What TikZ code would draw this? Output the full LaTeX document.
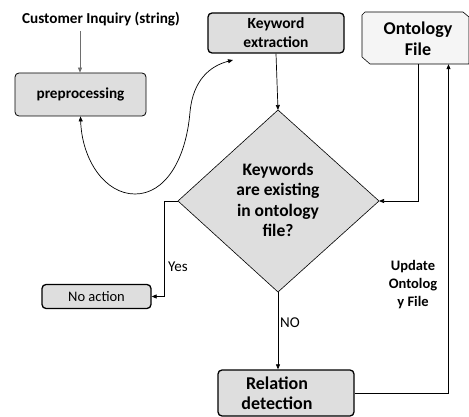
\documentclass[tikz,border=0pt]{standalone}
\usepackage{fontspec}
\setmainfont{Carlito}
\usetikzlibrary{arrows.meta}
\definecolor{boxgray}{RGB}{222,222,222}
\definecolor{ontofill}{RGB}{245,245,245}
\definecolor{arrgray}{RGB}{110,110,110}
\begin{document}
\begin{tikzpicture}[x=1pt,y=-1pt,
  box/.style={draw, rounded corners=4pt, fill=boxgray, line width=0.8pt, align=center, inner sep=0pt},
  thickbox/.style={box, line width=1.3pt},
  txt/.style={align=center, inner sep=0pt, font=\bfseries},
  arr/.style={-{Triangle[length=5pt,width=4pt]}, line width=0.7pt},
  arrb/.style={{Triangle[length=5pt,width=4pt]}-{Triangle[length=5pt,width=4pt]}, line width=0.7pt}]
\useasboundingbox (0,0) rectangle (469,417);

% nodes
\node[txt, font=\bfseries\fontsize{15.2}{17}\selectfont] (cust) at (101,19) {Customer Inquiry (string)};
\node[box, minimum width=131pt, minimum height=43pt, font=\bfseries\fontsize{15.2}{17}\selectfont] (pre) at (80.5,94.5) {preprocessing};
\node[thickbox, minimum width=136pt, minimum height=40pt, font=\bfseries\fontsize{15.5}{19}\selectfont] (kw) at (276,33) {Keyword\\extraction};

% ontology file
\draw[fill=ontofill, line width=0.6pt] (362,15) -- (365,12) -- (463,12) -- (469,17) -- (469,64) -- (370,64) -- (362,57) -- cycle;
\node[minimum width=107pt, minimum height=52pt, inner sep=0pt] (onto) at (415.5,38) {};
\node[txt, font=\bfseries\fontsize{18}{21}\selectfont] (ontotext) at (418,39) {Ontology\\File};

% diamond
\coordinate (dtop) at (278,110);
\coordinate (dright) at (379,201);
\coordinate (dbot) at (278,292);
\coordinate (dleft) at (178,201);
\draw[fill=boxgray, line width=0.6pt] (dtop) -- (dright) -- (dbot) -- (dleft) -- cycle;
\node[txt, font=\bfseries\fontsize{17.5}{20.5}\selectfont] (dia) at (278,200) {Keywords\\are existing\\in ontology\\file?};

\node[thickbox, minimum width=109pt, minimum height=24pt, font=\fontsize{14.5}{17}\selectfont] (noact) at (96.5,296.5) {No action};
\node[thickbox, minimum width=136pt, minimum height=46pt] (rel) at (286,393) {};
\node[txt, font=\bfseries\fontsize{18}{20}\selectfont] (reltext) at (277,393) {Relation\\detection};

% labels
\node[inner sep=0pt, font=\fontsize{15}{17}\selectfont] (yes) at (178,267) {Yes};
\node[inner sep=0pt, font=\fontsize{15}{17}\selectfont] (no) at (290,323) {NO};
\node[txt, font=\bfseries\fontsize{14.5}{18}\selectfont] (upd) at (413,285) {Update\\Ontolog\\y File};

% connectors
\draw[line width=0.7pt, draw=arrgray, -{Triangle[length=5pt,width=4pt,fill=arrgray]}] (80,31) -- (pre.north -| 80,0);
\coordinate (kwin) at (233,60);
\draw[arrb] (pre.south) .. controls (82,160) and (105,194) .. (135,194)
  .. controls (165,194) and (186,160) .. (190,112)
  .. controls (193,80) and (210,66) .. (kwin);
\draw[arr] (kw.south) -- (dtop);
\draw[arr] (dleft) -- (164,201) |- (noact.east);
\draw[arr] (dbot) -- (rel.north -| dbot);
\draw[arr] ([xshift=2.5pt]onto.south) |- (dright);
\draw[arr] (rel.east) -| ([xshift=33pt]onto.south);
\end{tikzpicture}
\end{document}
